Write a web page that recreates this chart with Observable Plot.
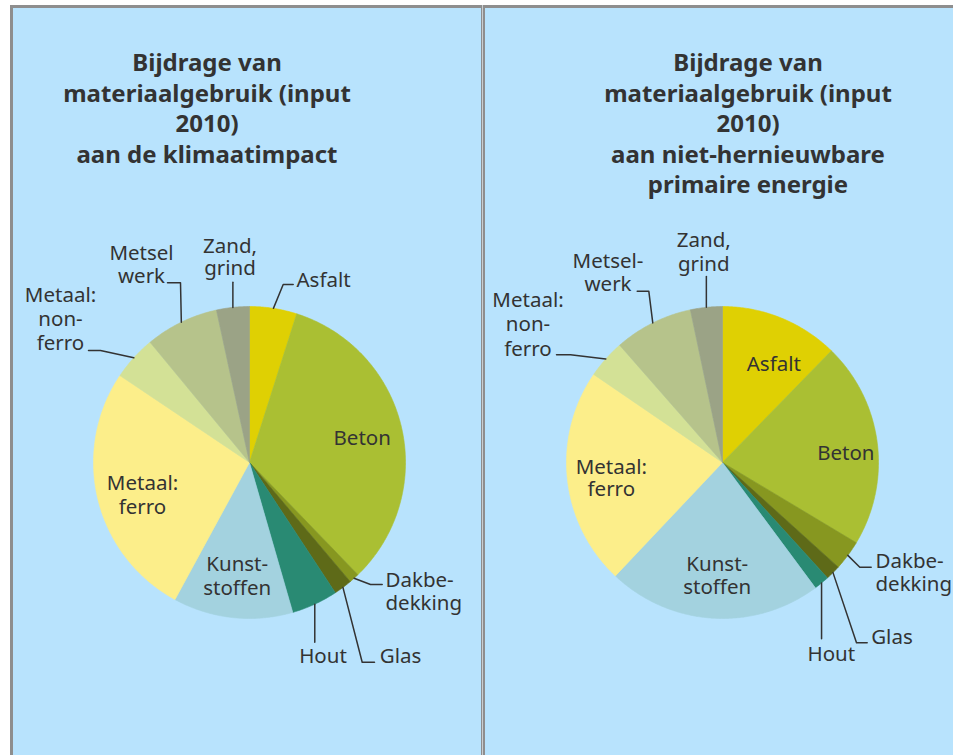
<!DOCTYPE html>
<html><head><meta charset="utf-8">
<script src="https://cdn.jsdelivr.net/npm/d3@7"></script>
<script src="https://cdn.jsdelivr.net/npm/@observablehq/plot@0.6"></script>
<style>
body{margin:0;background:#fff;width:953px;height:755px;overflow:hidden;position:relative;font-family:"Noto Sans",sans-serif;}
#bg{position:absolute;left:10px;top:5px;width:943px;height:750px;background:#B8E3FD;}
.ln{position:absolute;background:#8E8E8E;}
#mid{position:absolute;left:481px;top:5px;width:4px;height:750px;background:linear-gradient(to right,#8E8E8E 0,#8E8E8E 1.5px,#C9CDD0 1.5px,#C9CDD0 2.5px,#8E8E8E 2.5px,#8E8E8E 4px);}
.title{position:absolute;width:420px;text-align:center;font-weight:bold;font-size:24px;line-height:30.5px;color:#333;white-space:pre-line;}
.chart{position:absolute;}
</style></head><body>
<div id="bg"></div>
<div class="ln" style="left:10px;top:5px;width:943px;height:3px"></div>
<div class="ln" style="left:10px;top:5px;width:3px;height:750px"></div>
<div id="mid"></div>
<div class="title" id="t1" style="left:-3px;top:47px"></div>
<div class="title" id="t2" style="left:538px;top:47px"></div>
<div class="chart" id="c1" style="left:13px;top:8px"></div>
<div class="chart" id="c2" style="left:485px;top:8px"></div>
<script>
// ---- data ----
const categories = ["Asfalt","Beton","Dakbedekking","Glas","Hout","Kunststoffen","Metaal: ferro","Metaal: non-ferro","Metselwerk","Zand, grind"];
const colors = ["#DFD003","#AABF33","#879720","#5E6A18","#298A73","#A3D2DF","#FCEE8A","#D3E196","#B6C38B","#9BA386"];
// share in %
const climateShare = [4.9, 32.9, 1.05, 1.9, 4.8, 12.4, 26.5, 4.6, 7.6, 3.4];
const energyShare  = [12.3, 21.3, 3.1, 1.55, 1.6, 22.2, 22.5, 4.0, 8.15, 3.3];
const climateLabels = ["Asfalt","Beton","Dakbe-\ndekking","Glas","Hout","Kunst-\nstoffen","Metaal:\nferro","Metaal:\nnon-\nferro","Metsel\nwerk","Zand,\ngrind"];
const energyLabels  = ["Asfalt","Beton","Dakbe-\ndekking","Glas","Hout","Kunst-\nstoffen","Metaal:\nferro","Metaal:\nnon-\nferro","Metsel-\nwerk","Zand,\ngrind"];
const climateTitle = "Bijdrage van\nmateriaalgebruik (input\n2010)\naan de klimaatimpact";
const energyTitle  = "Bijdrage van\nmateriaalgebruik (input\n2010)\naan niet-hernieuwbare\nprimaire energie";

// ---- layout (pixel offsets from the pie centre; y = first baseline, g = line gap) ----
const climateLayout = [
  {x:47, y:-176, a:"start", g:23, leader:[[33.7,-178],[43.7,-178]]},
  {x:112.7, y:-18, a:"middle", g:23},
  {x:136, y:124, a:"start", g:23, leader:[[121,122],[132.7,122]]},
  {x:130.3, y:200.7, a:"start", g:23, leader:[[112.7,199.7],[125,199.7]]},
  {x:73.5, y:200.7, a:"middle", g:23, leader:[["v",179.7]]},
  {x:-12.3, y:108.7, a:"middle", g:24},
  {x:-107, y:27, a:"middle", g:24},
  {x:-189, y:-160.3, a:"middle", g:24, leader:[[-149,-112],[-161,-112]]},
  {x:-108, y:-203, a:"middle", g:23, leader:[[-69,-179.7],[-82,-179.7]]},
  {x:-19.5, y:-210, a:"middle", g:22, leader:[["v",-180.3]]}
];
const energyLayout = [
  {x:51.3, y:-91.3, a:"middle", g:23},
  {x:123.3, y:-2.7, a:"middle", g:23},
  {x:153, y:105.3, a:"start", g:23, leader:[[137.3,104.7],[148.7,104.7]]},
  {x:148.7, y:181.3, a:"start", g:23, leader:[[134,180.3],[144.7,180.3]]},
  {x:108.8, y:198, a:"middle", g:23, leader:[["v",176.3]]},
  {x:-5.3, y:108, a:"middle", g:23.3},
  {x:-111.2, y:11.3, a:"middle", g:22},
  {x:-194.5, y:-156, a:"middle", g:24.5, leader:[[-152,-107.7],[-166,-107.7]]},
  {x:-114.5, y:-194.7, a:"middle", g:22.7, leader:[[-73.7,-171.3],[-85.3,-171.3]]},
  {x:-18.7, y:-215.3, a:"middle", g:24, leader:[["v",-186]]}
];

const FS = 20.5;

function pieChart({values, labels, layout, cx, cy, left, top, width, height, radius}) {
  const arcs = d3.pie().sort(null).value(d => d)(values);
  const slices = [], leaders = [], texts = [];
  arcs.forEach((a, i) => {
    const name = categories[i];
    const n = Math.max(2, Math.ceil((a.endAngle - a.startAngle) / (Math.PI / 360)));
    slices.push({name, x: 0, y: 0});
    for (let k = 0; k <= n; k++) {
      const t = a.startAngle + (a.endAngle - a.startAngle) * k / n;
      slices.push({name, x: radius * Math.sin(t), y: -radius * Math.cos(t)});
    }
    slices.push({name, x: 0, y: 0});
    const L = layout[i];
    if (L.leader) {
      const m = (a.startAngle + a.endAngle) / 2;
      const sx = radius * Math.sin(m), sy = -radius * Math.cos(m);
      leaders.push({name, x: sx, y: sy});
      for (const p of L.leader) {
        if (p[0] === "v") leaders.push({name, x: sx, y: p[1]});
        else leaders.push({name, x: p[0], y: p[1]});
      }
    }
    const nl = labels[i].split("\n").length;
    texts.push({text: labels[i], x: L.x, y: L.y + (nl - 1) * L.g, a: L.a, lh: L.g / FS});
  });
  const textMarks = texts.map(d => Plot.text([d], {
    x: "x", y: "y", text: "text", lineAnchor: "bottom", lineHeight: d.lh,
    textAnchor: d.a, fill: "#333", fontSize: FS, fontFamily: "Noto Sans"
  }));
  return Plot.plot({
    width, height, margin: 0,
    x: {domain: [left - cx, left + width - cx], range: [0, width], axis: null},
    y: {domain: [top - cy, top + height - cy], range: [0, height], axis: null},
    color: {domain: categories, range: colors},
    style: {background: "none", overflow: "visible"},
    marks: [
      Plot.line(slices, {x: "x", y: "y", z: "name", fill: "name", stroke: "name", strokeWidth: 0.6, curve: "linear"}),
      Plot.line(leaders, {x: "x", y: "y", z: "name", stroke: "#333", strokeWidth: 1.5, curve: "linear"}),
      ...textMarks
    ]
  });
}

document.getElementById("t1").textContent = climateTitle;
document.getElementById("t2").textContent = energyTitle;
document.getElementById("c1").append(pieChart({values: climateShare, labels: climateLabels, layout: climateLayout,
  cx: 249, cy: 462, left: 13, top: 8, width: 468, height: 747, radius: 156}));
document.getElementById("c2").append(pieChart({values: energyShare, labels: energyLabels, layout: energyLayout,
  cx: 722, cy: 462, left: 485, top: 8, width: 468, height: 747, radius: 156}));
</script>
</body></html>
